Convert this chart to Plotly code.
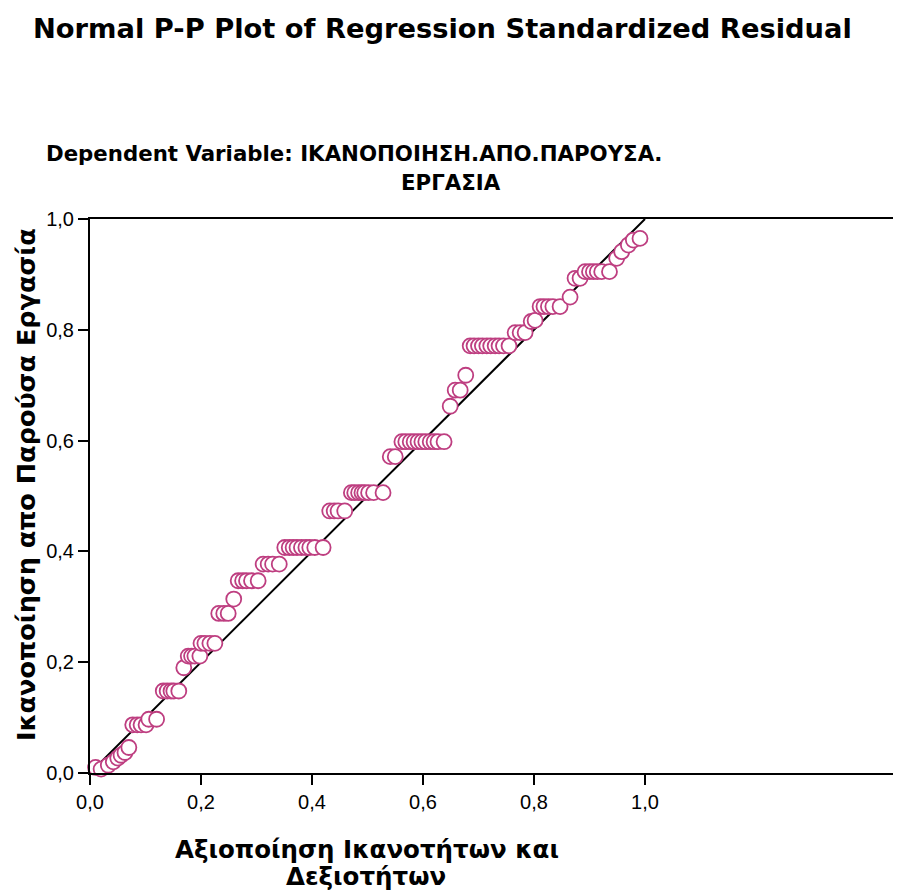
import plotly.graph_objects as go

# Observed cumulative probability (x) and expected cumulative probability (y)
obs_cum_prob = [
    0.010, 0.020, 0.033, 0.042, 0.050, 0.056, 0.063, 0.070,
    0.077, 0.085, 0.092, 0.101,
    0.106, 0.120,
    0.132, 0.139, 0.146, 0.151, 0.160,
    0.169,
    0.177, 0.183, 0.189, 0.198,
    0.200, 0.207, 0.216, 0.225,
    0.232, 0.241, 0.249,
    0.259,
    0.267, 0.275, 0.282, 0.291, 0.303,
    0.312, 0.321, 0.329, 0.341,
    0.351, 0.359, 0.366, 0.373, 0.381, 0.389, 0.396, 0.405, 0.420,
    0.432, 0.440, 0.447, 0.459,
    0.471, 0.477, 0.484, 0.490, 0.495, 0.502, 0.511, 0.528,
    0.541, 0.550,
    0.562, 0.569, 0.577, 0.584, 0.591, 0.598, 0.605, 0.613, 0.620, 0.627, 0.638,
    0.649,
    0.658, 0.667,
    0.677,
    0.685, 0.692, 0.700, 0.707, 0.715, 0.722, 0.730, 0.737, 0.745, 0.755,
    0.766, 0.775, 0.784,
    0.795, 0.802,
    0.811, 0.818, 0.826, 0.834, 0.847,
    0.865,
    0.874, 0.883,
    0.892, 0.900, 0.907, 0.914, 0.922, 0.936,
    0.949,
    0.958,
    0.970,
    0.979, 0.991,
]
exp_cum_prob = [
    0.010, 0.007, 0.014, 0.020, 0.027, 0.032, 0.037, 0.046,
    0.087, 0.087, 0.087, 0.087,
    0.097, 0.097,
    0.148, 0.148, 0.148, 0.148, 0.148,
    0.190,
    0.211, 0.211, 0.211, 0.211,
    0.234, 0.234, 0.234, 0.234,
    0.288, 0.288, 0.288,
    0.314,
    0.347, 0.347, 0.347, 0.347, 0.347,
    0.377, 0.377, 0.377, 0.377,
    0.407, 0.407, 0.407, 0.407, 0.407, 0.407, 0.407, 0.407, 0.407,
    0.473, 0.473, 0.473, 0.473,
    0.506, 0.506, 0.506, 0.506, 0.506, 0.506, 0.506, 0.506,
    0.571, 0.571,
    0.598, 0.598, 0.598, 0.598, 0.598, 0.598, 0.598, 0.598, 0.598, 0.598, 0.598,
    0.662,
    0.691, 0.691,
    0.718,
    0.771, 0.771, 0.771, 0.771, 0.771, 0.771, 0.771, 0.771, 0.771, 0.771,
    0.795, 0.795, 0.795,
    0.815, 0.817,
    0.842, 0.842, 0.842, 0.842, 0.842,
    0.859,
    0.893, 0.893,
    0.905, 0.905, 0.905, 0.905, 0.905, 0.905,
    0.929,
    0.941,
    0.953,
    0.962, 0.965,
]

ref_line_x = [0.0, 1.0]
ref_line_y = [0.0, 1.0]

tick_vals = [0.0, 0.2, 0.4, 0.6, 0.8, 1.0]
tick_text = ["0,0", "0,2", "0,4", "0,6", "0,8", "1,0"]

title_text = "Normal P-P Plot of Regression Standardized Residual"
subtitle_line1 = "Dependent Variable: ΙΚΑΝΟΠΟΙΗΣΗ.ΑΠΟ.ΠΑΡΟΥΣΑ."
subtitle_line2 = "ΕΡΓΑΣΙΑ"
x_title_line1 = "Αξιοποίηση Ικανοτήτων και"
x_title_line2 = "Δεξιοτήτων"
y_title = "Ικανοποίηση απο Παρούσα Εργασία"

# The page body has an 8px margin; compensate so the plot lands where intended.
OFF = 8
WIN_W, WIN_H = 901, 891
W, H = WIN_W - OFF, WIN_H - OFF
PLOT_LEFT, PLOT_TOP, PLOT_BOTTOM, PLOT_RIGHT = 90, 219, 773, 901
L = PLOT_LEFT - OFF
T = PLOT_TOP - OFF
B = WIN_H - PLOT_BOTTOM
R = 0
plot_w = PLOT_RIGHT - PLOT_LEFT
plot_h = PLOT_BOTTOM - PLOT_TOP
px_per_unit = 555.0


def px_x(px):
    return (px - PLOT_LEFT) / plot_w


def px_y(py):
    return (PLOT_BOTTOM - py) / plot_h


marker_color = "rgb(190,62,128)"
title_font = dict(family="DejaVu Sans", size=27.3, color="black")
sub_font = dict(family="DejaVu Sans", size=21.3, color="black")
x_title_font = dict(family="DejaVu Sans", size=24.5, color="black")
y_title_font = dict(family="DejaVu Sans", size=25.5, color="black")
tick_font = dict(family="Liberation Sans, Arial", size=20, color="black")

fig = go.Figure()
fig.add_trace(go.Scatter(
    x=ref_line_x, y=ref_line_y, mode="lines",
    line=dict(color="black", width=2), hoverinfo="skip", showlegend=False,
))
fig.add_trace(go.Scatter(
    x=obs_cum_prob, y=exp_cum_prob, mode="markers",
    marker=dict(size=15, color="white", line=dict(color=marker_color, width=1.8)),
    cliponaxis=False, showlegend=False,
))

fig.update_layout(
    width=W, height=H,
    margin=dict(l=L, r=R, t=T, b=B, pad=0),
    paper_bgcolor="white", plot_bgcolor="white",
    font=dict(family="Liberation Sans, Arial", color="black"),
    showlegend=False,
    xaxis=dict(
        range=[0, plot_w / px_per_unit], tickvals=tick_vals, ticktext=tick_text,
        showgrid=False, zeroline=False, showline=True, linecolor="black", linewidth=2,
        mirror=True, ticks="outside", ticklen=10, tickwidth=2, tickcolor="black",
        tickfont=tick_font, fixedrange=True,
    ),
    yaxis=dict(
        range=[0, 1], tickvals=tick_vals, ticktext=tick_text,
        showgrid=False, zeroline=False, showline=True, linecolor="black", linewidth=2,
        ticks="outside", ticklen=10, tickwidth=2, tickcolor="black",
        tickfont=tick_font, fixedrange=True,
    ),
    annotations=[
        dict(text="<b>" + title_text + "</b>", x=px_x(442), y=px_y(28),
             xref="paper", yref="paper", showarrow=False, xanchor="center", yanchor="middle",
             font=title_font),
        dict(text="<b>" + subtitle_line1 + "</b>", x=px_x(354), y=px_y(153),
             xref="paper", yref="paper", showarrow=False, xanchor="center", yanchor="middle",
             font=sub_font),
        dict(text="<b>" + subtitle_line2 + "</b>", x=px_x(451), y=px_y(183),
             xref="paper", yref="paper", showarrow=False, xanchor="center", yanchor="middle",
             font=sub_font),
        dict(text="<b>" + x_title_line1 + "</b>", x=px_x(367), y=px_y(849),
             xref="paper", yref="paper", showarrow=False, xanchor="center", yanchor="middle",
             font=x_title_font),
        dict(text="<b>" + x_title_line2 + "</b>", x=px_x(366), y=px_y(876),
             xref="paper", yref="paper", showarrow=False, xanchor="center", yanchor="middle",
             font=x_title_font),
        dict(text="<b>" + y_title + "</b>", x=px_x(26), y=px_y(485),
             xref="paper", yref="paper", showarrow=False, xanchor="center", yanchor="middle",
             textangle=-90, font=y_title_font),
    ],
)

fig.write_html("out.html")
